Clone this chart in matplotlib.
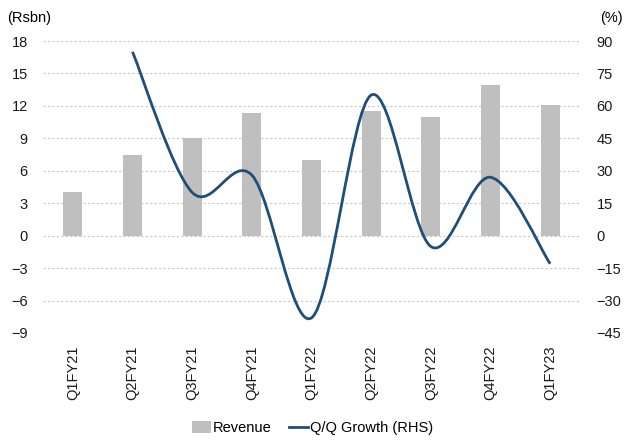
import numpy as np
import matplotlib.pyplot as plt
from matplotlib.path import Path
from matplotlib.patches import PathPatch, Patch
from matplotlib.lines import Line2D

plt.rcParams['font.family'] = ['Liberation Sans', 'DejaVu Sans']
plt.rcParams['font.size'] = 10

quarters = ["Q1FY21", "Q2FY21", "Q3FY21", "Q4FY21", "Q1FY22",
            "Q2FY22", "Q3FY22", "Q4FY22", "Q1FY23"]
revenue = [4.0, 7.5, 9.0, 11.3, 7.0, 11.5, 11.0, 13.9, 12.1]
qoq_growth = [None, 85, 20, 28, -38, 65, -5, 27, -13]

bar_color = "#BFBFBF"
line_color = "#1F4E79"
grid_color = "#C8C8C8"


def smooth_path(xs, ys):
    # Catmull-Rom style bezier, like a spreadsheet "smoothed line"
    pts = np.column_stack([xs, ys]).astype(float)
    verts = [pts[0]]
    codes = [Path.MOVETO]
    n = len(pts)
    for i in range(n - 1):
        p0 = pts[i - 1] if i > 0 else pts[i]
        p1 = pts[i]
        p2 = pts[i + 1]
        p3 = pts[i + 2] if i + 2 < n else pts[i + 1]
        c1 = p1 + (p2 - p0) / 6.0
        c2 = p2 - (p3 - p1) / 6.0
        verts += [c1, c2, p2]
        codes += [Path.CURVE4] * 3
    return Path(verts, codes)


fig = plt.figure(figsize=(6.25, 4.46), dpi=100)
ax = fig.add_axes([0.0688, 0.2534, 0.8592, 0.6546])
ax2 = ax.twinx()

x = np.arange(len(quarters))
ax.bar(x, revenue, width=0.32, color=bar_color, zorder=2)

ax.set_xlim(-0.5, len(quarters) - 0.5)
ax.set_ylim(-9, 18)
ax.set_yticks(np.arange(-9, 19, 3))
ax2.set_ylim(-45, 90)
ax2.set_yticks(np.arange(-45, 91, 15))

ax.yaxis.grid(True, color=grid_color, linestyle=(0, (2, 2)), linewidth=0.8)
ax.set_axisbelow(True)

gx = [i for i, v in enumerate(qoq_growth) if v is not None]
gy = [v for v in qoq_growth if v is not None]
ax2.add_patch(PathPatch(smooth_path(gx, gy), facecolor="none",
                        edgecolor=line_color, linewidth=2.0, zorder=3,
                        capstyle="butt"))

ax.set_xticks(x)
ax.set_xticklabels(quarters, rotation=90)
for a in (ax, ax2):
    for s in a.spines.values():
        s.set_visible(False)
    a.tick_params(length=0, labelsize=10.5, colors="#1a1a1a")
ax.tick_params(axis="y", pad=11)
ax2.tick_params(axis="y", pad=12)
ax.tick_params(axis="x", pad=9)

fig.text(0.011, 0.945, "(Rsbn)", fontsize=10.5, ha="left", va="bottom")
fig.text(0.997, 0.945, "(%)", fontsize=10.5, ha="right", va="bottom")

handles = [Patch(facecolor=bar_color, edgecolor="none"),
           Line2D([0], [0], color=line_color, linewidth=2.0)]
fig.legend(handles, ["Revenue", "Q/Q Growth (RHS)"], loc="lower center",
           bbox_to_anchor=(0.5, -0.005), ncol=2, frameon=False,
           fontsize=10.5, handlelength=1.3, handletextpad=0.15,
           columnspacing=1.2, handleheight=0.9)

fig.savefig("out.png", dpi=100)
